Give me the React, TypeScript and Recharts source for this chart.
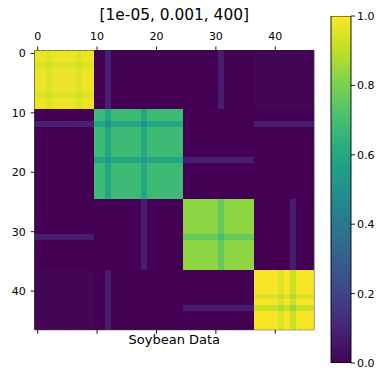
import React from "react";
import { Bar, BarChart, Scatter, ScatterChart, XAxis, YAxis } from "recharts";

// sample clusters along the diagonal (soybean data, 47 samples)
const clusterSizes = [10, 15, 12, 10];
const clusterLevels = [0.97, 0.68, 0.83, 0.99];

// samples that sit a bit lower inside their own cluster
const weakSamples = [2, 7, 12, 18, 31, 41, 43];
const weakDrops = [0.02, 0.02, 0.09, 0.08, 0.07, 0.04, 0.07];

// samples with a faint link to another cluster
const bridgeSamples = [12, 12, 18, 31, 43];
const bridgeClusters = [0, 3, 2, 0, 2];
const bridgeValues = [0.09, 0.08, 0.08, 0.08, 0.07];

// faint background between whole clusters
const crossPairs = [[0, 3]];
const crossValues = [0.01];

const axisTicks = [0, 10, 20, 30, 40];
const colorbarTicks = [0, 0.2, 0.4, 0.6, 0.8, 1.0];
const viridisStops = ["#440154", "#482475", "#414487", "#355f8d", "#2a788e", "#21918c", "#22a884", "#44bf70", "#7ad151", "#bddf26", "#fde725"];

const N = clusterSizes.reduce((a, b) => a + b, 0);
const PLOT = 279.2;
const CELL = PLOT / N;
const FONT = "'DejaVu Sans', sans-serif";

const clusterOf: number[] = [];
clusterSizes.forEach((s, c) => {
  for (let k = 0; k < s; k++) clusterOf.push(c);
});

function pairValue(i: number, j: number) {
  const ci = clusterOf[i];
  const cj = clusterOf[j];
  if (ci === cj) {
    let v = clusterLevels[ci];
    weakSamples.forEach((s, k) => {
      if (s === i) v -= weakDrops[k];
      if (s === j) v -= weakDrops[k];
    });
    return v;
  }
  let v = 0;
  crossPairs.forEach(([a, b], k) => {
    if ((a === ci && b === cj) || (a === cj && b === ci)) v = crossValues[k];
  });
  bridgeSamples.forEach((s, k) => {
    if ((s === i && bridgeClusters[k] === cj) || (s === j && bridgeClusters[k] === ci)) v = Math.max(v, bridgeValues[k]);
  });
  return v;
}

const cells: { x: number; y: number; v: number }[] = [];
for (let i = 0; i < N; i++) {
  for (let j = 0; j < N; j++) cells.push({ x: j, y: i, v: pairValue(i, j) });
}

function hex(c: string) {
  return [1, 3, 5].map((p) => parseInt(c.slice(p, p + 2), 16));
}

function viridis(v: number) {
  const t = Math.max(0, Math.min(1, v)) * 10;
  const i = Math.min(9, Math.floor(t));
  const f = t - i;
  const a = hex(viridisStops[i]);
  const b = hex(viridisStops[i + 1]);
  const rgb = a.map((x, k) => Math.round(x + (b[k] - x) * f));
  return `rgb(${rgb.join(",")})`;
}

// cells are drawn slightly oversized so neighbours overlap and no seams show
const Cell = (props: any) => {
  const { cx, cy, payload } = props;
  if (cx == null || cy == null) return null;
  return (
    <rect
      x={cx - CELL / 2 - 0.5}
      y={cy - CELL / 2 - 0.5}
      width={CELL + 1}
      height={CELL + 1}
      fill={viridis(payload.v)}
      shapeRendering="crispEdges"
    />
  );
};

const tickStyle = { fontSize: 11, fill: "#000", fontFamily: FONT };
const line = { stroke: "#000", strokeWidth: 0.9 };

export default function App() {
  return (
    <div style={{ position: "absolute", left: 0, top: 0, width: 379, height: 369, background: "#fff", fontFamily: FONT }}>
      <div style={{ position: "absolute", left: 34.7, width: PLOT, top: 7, textAlign: "center", fontSize: 15.4, lineHeight: "16px", color: "#000" }}>
        [1e-05, 0.001, 400]
      </div>
      <div style={{ position: "absolute", left: 34.7, width: PLOT, top: 333, textAlign: "center", fontSize: 13, lineHeight: "14px", color: "#000" }}>
        Soybean Data
      </div>

      <div style={{ position: "absolute", left: 0, top: 0 }}>
        <ScatterChart width={379} height={369} margin={{ top: 20.5, right: 64.1, bottom: 9.3, left: 4.7 }}>
          <Scatter data={cells} dataKey="v" xAxisId="top" yAxisId="left" shape={Cell} isAnimationActive={false} />
          <XAxis xAxisId="top" type="number" dataKey="x" orientation="top" domain={[-0.5, N - 0.5]} ticks={axisTicks} interval={0} height={30} tick={tickStyle} tickSize={4} tickMargin={7} axisLine={line} tickLine={line} allowDataOverflow />
          <XAxis xAxisId="bottom" type="number" dataKey="x" orientation="bottom" domain={[-0.5, N - 0.5]} ticks={axisTicks} interval={0} height={30} tick={tickStyle} tickFormatter={() => ""} tickSize={4} axisLine={line} tickLine={line} allowDataOverflow />
          <YAxis yAxisId="left" type="number" dataKey="y" domain={[-0.5, N - 0.5]} reversed ticks={axisTicks} interval={0} width={30} tick={tickStyle} tickSize={4} tickMargin={5} axisLine={line} tickLine={line} allowDataOverflow />
          <YAxis yAxisId="right" type="number" dataKey="y" orientation="right" domain={[-0.5, N - 0.5]} reversed width={1} tick={false} tickLine={false} axisLine={line} allowDataOverflow />
        </ScatterChart>
      </div>

      <div style={{ position: "absolute", left: 0, top: 0 }}>
        <BarChart width={379} height={369} data={[{ name: "cb", v: 1 }]} margin={{ top: 16, right: 0, bottom: 6, left: 331 }} barCategoryGap={0}>
          <defs>
            <linearGradient id="viridisGrad" x1="0" y1="1" x2="0" y2="0">
              {viridisStops.map((c, k) => (
                <stop key={k} offset={`${k * 10}%`} stopColor={c} />
              ))}
            </linearGradient>
          </defs>
          <XAxis dataKey="name" hide />
          <YAxis orientation="right" type="number" domain={[0, 1]} ticks={colorbarTicks} interval={0} width={28} tick={tickStyle} tickFormatter={(v: number) => v.toFixed(1)} tickSize={4} tickMargin={2} axisLine={false} tickLine={line} allowDataOverflow />
          <Bar dataKey="v" fill="url(#viridisGrad)" stroke="#000" strokeWidth={0.9} isAnimationActive={false} />
        </BarChart>
      </div>
    </div>
  );
}
